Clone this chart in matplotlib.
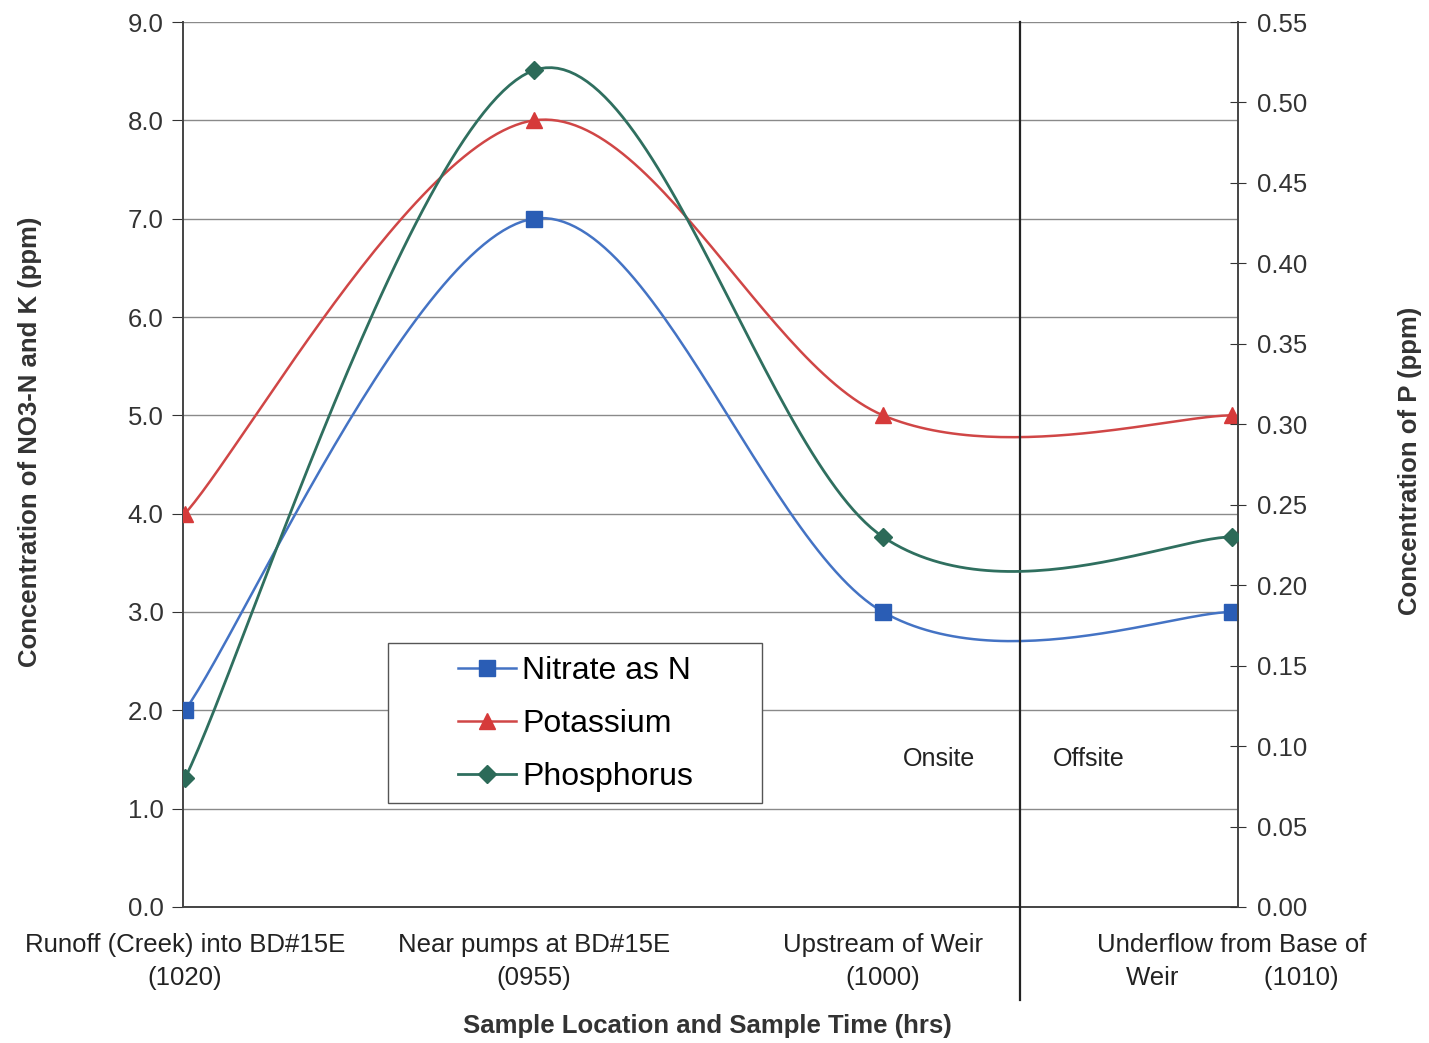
import matplotlib.pyplot as plt
import numpy as np
from matplotlib.patches import Rectangle

plt.rcParams['font.family'] = ['Liberation Sans', 'DejaVu Sans']

# data
categories = ['Runoff (Creek) into BD#15E\n(1020)',
              'Near pumps at BD#15E\n(0955)',
              'Upstream of Weir\n(1000)',
              'Underflow from Base of\nWeir            (1010)']
nitrate = [2.0, 7.0, 3.0, 3.0]
potassium = [4.0, 8.0, 5.0, 5.0]
phosphorus = [0.08, 0.52, 0.23, 0.23]

left_ticks = [0, 1, 2, 3, 4, 5, 6, 7, 8, 9]
right_ticks = [0.00, 0.05, 0.10, 0.15, 0.20, 0.25, 0.30, 0.35, 0.40, 0.45, 0.50, 0.55]


def excel_smooth(xs, ys, n=60):
    # Excel-style smoothed line: bezier segments with catmull-rom control points
    pts = np.column_stack([xs, ys]).astype(float)
    ext = np.vstack([pts[0], pts, pts[-1]])
    t = np.linspace(0, 1, n)[:, None]
    out = []
    for i in range(len(pts) - 1):
        p0, p1, p2, p3 = ext[i], ext[i + 1], ext[i + 2], ext[i + 3]
        c1 = p1 + (p2 - p0) / 6
        c2 = p2 - (p3 - p1) / 6
        seg = ((1 - t) ** 3) * p1 + 3 * ((1 - t) ** 2) * t * c1 + 3 * (1 - t) * t ** 2 * c2 + t ** 3 * p2
        out.append(seg)
    out = np.vstack(out)
    return out[:, 0], out[:, 1]


x = np.arange(len(categories))

fig = plt.figure(figsize=(14.29, 10.43), dpi=100)
ax = fig.add_axes([0.128, 0.1304, 0.7383, 0.8485])
ax2 = ax.twinx()

blue_line, blue_mk = '#4473c4', '#2a5db5'
red_line, red_mk = '#d04646', '#d63a3a'
green_line, green_mk = '#2f6f5f', '#2c6a58'

sx, sy = excel_smooth(x, nitrate)
ax.plot(sx, sy, color=blue_line, lw=1.8, zorder=4)
ax.plot(x, nitrate, ls='none', marker='s', ms=11, color=blue_mk, zorder=5)

sx, sy = excel_smooth(x, potassium)
ax.plot(sx, sy, color=red_line, lw=1.8, zorder=4)
ax.plot(x, potassium, ls='none', marker='^', ms=11, color=red_mk, zorder=5)

sx, sy = excel_smooth(x, phosphorus)
ax2.plot(sx, sy, color=green_line, lw=2.0, zorder=4)
ax2.plot(x, phosphorus, ls='none', marker='D', ms=9, color=green_mk, zorder=5)

ax.set_xlim(-0.006, 3.017)
ax.set_ylim(0, 9)
ax2.set_ylim(0, 0.55)

ax.set_yticks(left_ticks)
ax.set_yticklabels([f'{v:.1f}' for v in left_ticks])
ax2.set_yticks(right_ticks)
ax2.set_yticklabels([f'{v:.2f}' for v in right_ticks])

ax.set_xticks(x)
ax.set_xticklabels(categories, fontsize=18.5, color='#222222', linespacing=1.45)
ax.tick_params(axis='x', length=0, pad=19)
ax.tick_params(axis='y', direction='out', length=8, labelsize=18.5, colors='#333333', labelcolor='#333333', pad=6)
ax2.tick_params(axis='y', direction='inout', length=12, labelsize=18.5, colors='#333333', labelcolor='#333333', pad=8)

ax.grid(axis='y', color='#8a8a8a', lw=1.0)
ax.set_axisbelow(True)
for s in ['left', 'bottom']:
    ax.spines[s].set_color('#444444')
    ax.spines[s].set_linewidth(1.4)
ax.spines['top'].set_visible(False)
ax.spines['right'].set_visible(False)
ax2.spines['top'].set_visible(False)
ax2.spines['left'].set_visible(False)
ax2.spines['bottom'].set_visible(False)
ax2.spines['right'].set_color('#444444')
ax2.spines['right'].set_linewidth(1.4)

# axis titles
fig.text(30 / 1429, 1 - 442 / 1043, 'Concentration of NO3-N and K (ppm)', rotation=90,
         fontsize=18.5, fontweight='bold', color='#333333', ha='center', va='center')
fig.text(1410 / 1429, 1 - 461 / 1043, 'Concentration of P (ppm)', rotation=90,
         fontsize=18.5, fontweight='bold', color='#333333', ha='center', va='center')
fig.text(707 / 1429, 1 - 1026 / 1043, 'Sample Location and Sample Time (hrs)',
         fontsize=18.5, fontweight='bold', color='#333333', ha='center', va='center')

# onsite / offsite divider
ax.plot([2.393, 2.393], [-0.105, 1.0], color='#222222', lw=1.6,
        transform=ax.get_xaxis_transform(), clip_on=False, zorder=6)
ax.text(2.16, 1.5, 'Onsite', fontsize=18, color='#222222', ha='center', va='center')
ax.text(2.59, 1.5, 'Offsite', fontsize=18, color='#222222', ha='center', va='center')

# legend: box drawn separately, Excel-style wide padding
box = Rectangle((0.194, 0.1175), 0.355, 0.181, transform=ax2.transAxes, facecolor='white',
                edgecolor='#555555', lw=1.0, zorder=9)
ax2.add_patch(box)
handles = [plt.Line2D([], [], color=blue_line, marker='s', ms=11, mfc=blue_mk, mec=blue_mk, lw=1.8),
           plt.Line2D([], [], color=red_line, marker='^', ms=11, mfc=red_mk, mec=red_mk, lw=1.8),
           plt.Line2D([], [], color=green_line, marker='D', ms=9, mfc=green_mk, mec=green_mk, lw=2.0)]
leg = ax2.legend(handles, ['Nitrate as N', 'Potassium', 'Phosphorus'],
                 loc='center left', bbox_to_anchor=(0.261, 0.207), fontsize=23,
                 frameon=False, handlelength=1.8, handletextpad=0.2, borderpad=0,
                 labelspacing=0.72, borderaxespad=0)
leg.set_zorder(10)

fig.savefig('out.png', dpi=100)
